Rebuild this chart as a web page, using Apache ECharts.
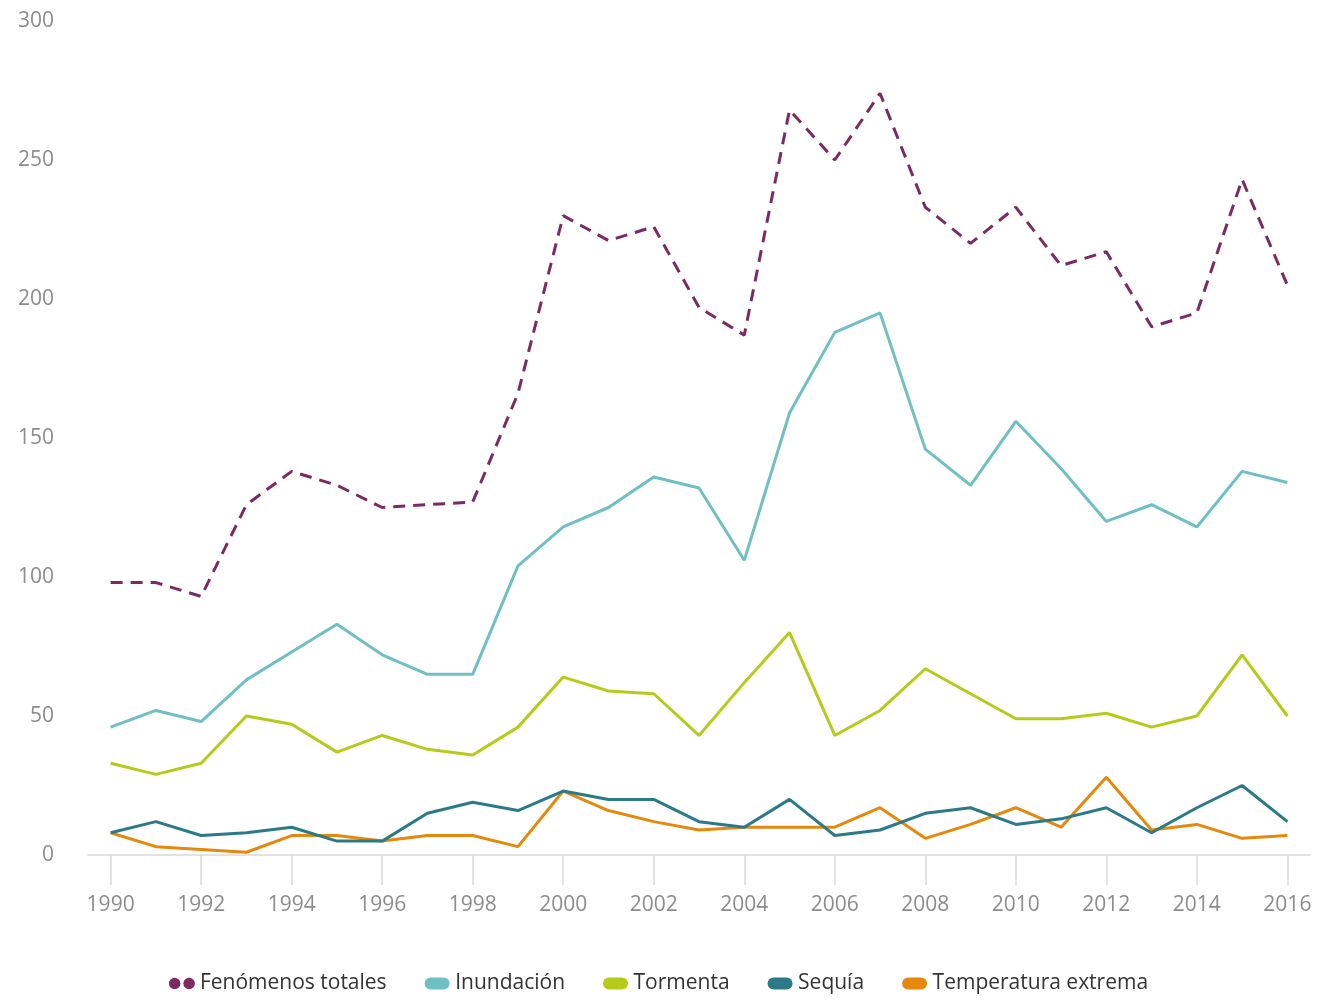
<!DOCTYPE html>
<html>
<head>
<meta charset="utf-8">
<script src="https://cdn.jsdelivr.net/npm/echarts@6/dist/echarts.min.js"></script>
<style>
html,body{margin:0;padding:0;background:#fff;}
#chart{width:1317px;height:1001px;}
</style>
</head>
<body>
<div id="chart"></div>
<script>
const years = [1990,1991,1992,1993,1994,1995,1996,1997,1998,1999,2000,2001,2002,2003,2004,2005,2006,2007,2008,2009,2010,2011,2012,2013,2014,2015,2016];
const yearTicks = [1990,1992,1994,1996,1998,2000,2002,2004,2006,2008,2010,2012,2014,2016];
const totales = [98,98,93,126,138,133,125,126,127,166,230,221,226,197,187,268,250,274,233,220,233,212,217,190,195,243,205];
const inundacion = [46,52,48,63,73,83,72,65,65,104,118,125,136,132,106,159,188,195,146,133,156,139,120,126,118,138,134];
const tormenta = [33,29,33,50,47,37,43,38,36,46,64,59,58,43,62,80,43,52,67,58,49,49,51,46,50,72,50];
const sequia = [8,12,7,8,10,5,5,15,19,16,23,20,20,12,10,20,7,9,15,17,11,13,17,8,17,25,12];
const temperatura = [8,3,2,1,7,7,5,7,7,3,23,16,12,9,10,10,10,17,6,11,17,10,28,9,11,6,7];
const yTicks = [0,50,100,150,200,250,300];

const names = ['Fenómenos totales','Inundación','Tormenta','Sequía','Temperatura extrema'];
const colors = ['#7b2b62','#6fbfc3','#b5cb19','#2b7a88','#e6880c'];
const values = [totales, inundacion, tormenta, sequia, temperatura];

const font = '"Open Sans", sans-serif';
const pairs = arr => arr.map((v,i) => [years[i], v]);

const pill = 'path://M6,0H19A6,6 0 0 1 19,12H6A6,6 0 0 1 6,0Z';
const dots = 'path://M0,6A6,6 0 1 0 12,6A6,6 0 1 0 0,6ZM15,6A6,6 0 1 0 27,6A6,6 0 1 0 15,6Z';

const chart = echarts.init(document.getElementById('chart'));
chart.setOption({
  animation: false,
  backgroundColor: '#fff',
  grid: {left: 88, right: 7, top: 21, bottom: 146, containLabel: false},
  legend: {
    bottom: 2,
    left: 'center',
    itemWidth: 26,
    itemHeight: 12,
    itemGap: 38,
    textStyle: {fontFamily: font, fontSize: 21, color: '#333'},
    data: names.map((n,i) => ({name: n, icon: i === 0 ? dots : pill}))
  },
  xAxis: {
    type: 'value',
    min: 1989.5,
    max: 2016.5,
    splitLine: {show: false},
    axisLine: {show: true, lineStyle: {color: '#d9d9d9', width: 1.5}},
    axisTick: {show: true, length: 30, customValues: yearTicks, lineStyle: {color: '#d9d9d9', width: 1.5}},
    axisLabel: {customValues: yearTicks, margin: 40, fontFamily: font, fontSize: 21, color: '#8c8c8c', formatter: v => String(v)}
  },
  yAxis: {
    type: 'value',
    min: 0,
    max: 300,
    interval: 50,
    splitLine: {show: false},
    axisLine: {show: false},
    axisTick: {show: false},
    axisLabel: {margin: 34, fontFamily: font, fontSize: 21, color: '#8c8c8c',
      formatter: v => yTicks.includes(v) ? String(v) : ''}
  },
  series: names.map((n,i) => ({
    name: n,
    type: 'line',
    data: pairs(values[i]),
    color: colors[i],
    symbol: 'none',
    z: 10 - i,
    lineStyle: {width: 3, color: colors[i], type: i === 0 ? [12, 8] : 'solid'}
  }))
});
</script>
</body>
</html>
